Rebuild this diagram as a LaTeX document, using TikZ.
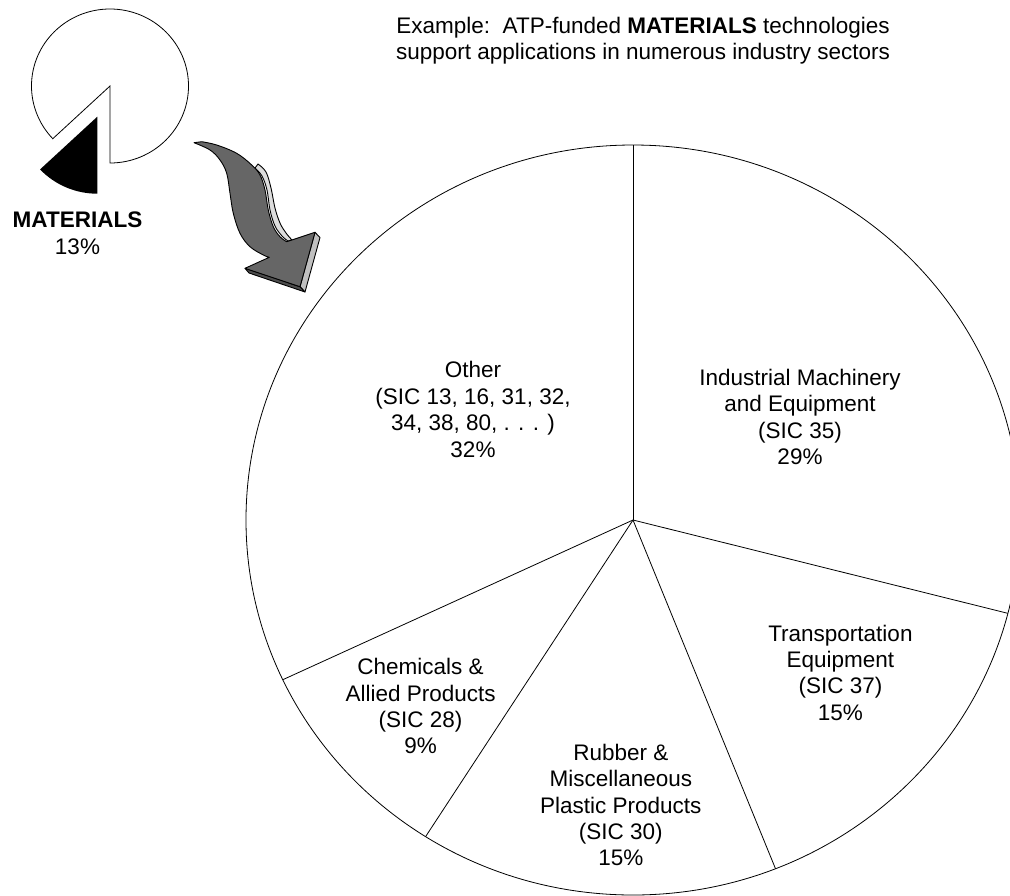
\documentclass[tikz,border=0pt]{standalone}
\usepackage{fontspec}
\setmainfont{Liberation Sans}
\definecolor{arrowgray}{HTML}{666666}
\definecolor{sidegray}{HTML}{C0C0C0}
\definecolor{bottomgray}{HTML}{4D4D4D}
\definecolor{stripgray}{HTML}{DDDDDD}
\begin{document}
\begin{tikzpicture}[x=1pt,y=-1pt,
  lbl/.style={align=center, font=\fontsize{22.5}{26.4}\selectfont, inner sep=0pt},
  edge/.style={draw=black, line width=0.8pt},
  arrowline/.style={draw=black, line width=0.9pt, line join=round}]
\useasboundingbox (0,0) rectangle (1010,895);
\clip (0,0) rectangle (1010,895);

% ---------- big pie ----------
\coordinate (c) at (633,520);
\draw[edge] (c) ellipse [x radius=387, y radius=375];
\coordinate (b1) at (633,145);
\coordinate (b2) at (1007.8,613.3);
\coordinate (b3) at (775.5,868.7);
\coordinate (b4) at (425.6,836.6);
\coordinate (b5) at (282.8,679.7);
\draw[edge] (c) -- (b1);
\draw[edge] (c) -- (b2);
\draw[edge] (c) -- (b3);
\draw[edge] (c) -- (b4);
\draw[edge] (c) -- (b5);

% ---------- small pie ----------
\coordinate (sc) at (110,86);
\draw[edge, fill=white] (sc) -- +(90:78.5 and 77)
  arc[start angle=90, end angle=-223.2, x radius=78.5, y radius=77] -- cycle;
\coordinate (bc) at (97.3,116.7);
\fill[black] (bc) -- +(90:78.5 and 77)
  arc[start angle=90, end angle=136.8, x radius=78.5, y radius=77] -- cycle;

% ---------- curved 3D arrow ----------
\filldraw[arrowline, fill=stripgray]
  plot[smooth, tension=0.6] coordinates {(255,168) (262,176) (267,190) (270,210) (275,226) (282,236) (288,241)}
  -- plot[smooth, tension=0.6] coordinates {(292,240) (286,233) (280,223) (275,208) (271,188) (266,172) (258,164)} -- cycle;
\filldraw[arrowline, fill=sidegray] (315,232.3) -- (320,237.5) -- (305,292) -- (300,286.7) -- cycle;
\filldraw[arrowline, fill=bottomgray] (245,268.3) -- (300,286.7) -- (305,292) -- (249,273) -- cycle;
\filldraw[arrowline, fill=arrowgray]
  plot[smooth, tension=0.6] coordinates {(194,142.7) (210,150) (220,160) (226.7,173.3) (230,193.3) (233.3,213.3) (240,233.3) (250,246.7) (263.3,255) (269.3,257.3)}
  -- (245,268.3) -- (300,286.7) -- (315,232.3)
  -- plot[smooth, tension=0.6] coordinates {(286.7,241.7) (280,236.7) (273.3,226.7) (268.3,210) (265,190) (260,175) (251.7,165) (236.7,153.3) (216.7,145) (201.7,141.7)}
  -- cycle;

% ---------- labels ----------
\node[lbl] (title) at (643,40.5) {Example:\ \ ATP-funded \textbf{MATERIALS} technologies\\support applications in numerous industry sectors};
\node[lbl] (mat) at (77.5,233.3) {\textbf{MATERIALS}\\13\%};
\node[lbl] (other) at (473,409.5) {Other\\(SIC 13, 16, 31, 32,\\34, 38, 80, . . . )\\32\%};
\node[lbl] (ind) at (800,416.8) {Industrial Machinery\\and Equipment\\(SIC 35)\\29\%};
\node[lbl] (trans) at (840.4,672.6) {Transportation\\Equipment\\(SIC 37)\\15\%};
\node[lbl] (chem) at (420.6,706.3) {Chemicals \&\\Allied Products\\(SIC 28)\\9\%};
\node[lbl] (rub) at (620.8,805) {Rubber \&\\Miscellaneous\\Plastic Products\\(SIC 30)\\15\%};
\end{tikzpicture}
\end{document}
